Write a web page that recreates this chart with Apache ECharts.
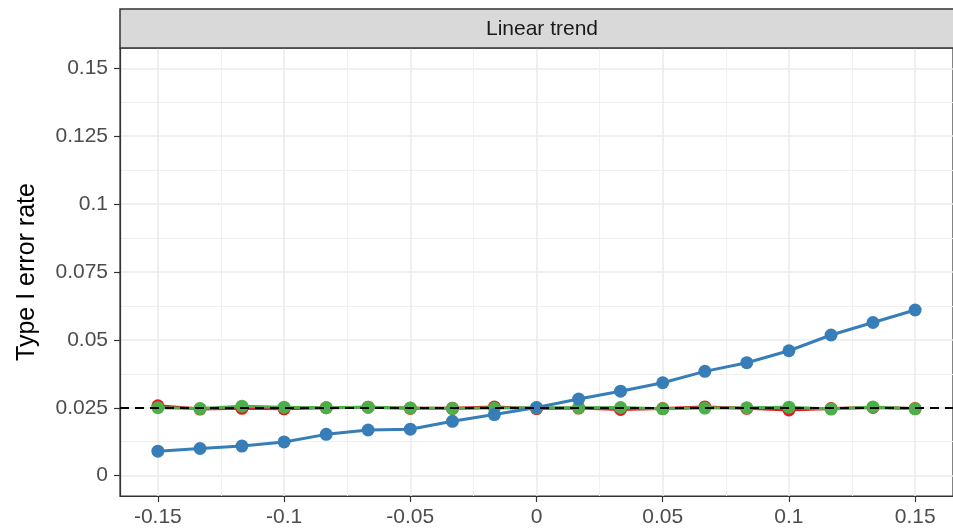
<!DOCTYPE html>
<html>
<head>
<meta charset="utf-8">
<script src="https://cdn.jsdelivr.net/npm/echarts@6/dist/echarts.min.js"></script>
<style>
html,body{margin:0;padding:0;background:#fff;}
#chart{width:953px;height:530px;}
</style>
</head>
<body>
<div id="chart"></div>
<script>
var xValues = [-0.15, -0.1333, -0.1167, -0.1, -0.0833, -0.0667, -0.05, -0.0333, -0.0167, 0,
               0.0167, 0.0333, 0.05, 0.0667, 0.0833, 0.1, 0.1167, 0.1333, 0.15];
var blueValues = [0.0090, 0.0100, 0.0109, 0.0124, 0.0152, 0.0168, 0.0171, 0.0200, 0.0225, 0.0251,
                  0.0282, 0.0311, 0.0342, 0.0384, 0.0416, 0.0460, 0.0518, 0.0564, 0.0610];
var redValues = [0.0257, 0.0245, 0.0248, 0.0246, 0.0250, 0.0252, 0.0248, 0.0248, 0.0253, 0.0247,
                 0.0249, 0.0244, 0.0247, 0.0253, 0.0248, 0.0242, 0.0247, 0.0251, 0.0247];
var greenValues = [0.0250, 0.0247, 0.0256, 0.0252, 0.0250, 0.0252, 0.0249, 0.0247, 0.0249, 0.0250,
                   0.0250, 0.0251, 0.0246, 0.0249, 0.0250, 0.0252, 0.0245, 0.0253, 0.0246];
var referenceLevel = 0.025;
var xTicks = [-0.15, -0.1, -0.05, 0, 0.05, 0.1, 0.15];
var xTickLabels = ['-0.15', '-0.1', '-0.05', '0', '0.05', '0.1', '0.15'];
var xMinor = [-0.125, -0.075, -0.025, 0.025, 0.075, 0.125];
var yTicks = [0, 0.025, 0.05, 0.075, 0.1, 0.125, 0.15];
var yTickLabels = ['0', '0.025', '0.05', '0.075', '0.1', '0.125', '0.15'];
var yMinor = [0.0125, 0.0375, 0.0625, 0.0875, 0.1125, 0.1375];
var stripTitle = 'Linear trend';
var yTitle = 'Type I error rate';

function pairs(ys) { return xValues.map(function (x, i) { return [x, ys[i]]; }); }
function labelFor(ticks, labels) {
  return function (v) {
    for (var i = 0; i < ticks.length; i++) if (Math.abs(ticks[i] - v) < 1e-9) return labels[i];
    return '';
  };
}

var FONT = 'Liberation Sans, Arial, sans-serif';
var chart = echarts.init(document.getElementById('chart'), null, {renderer: 'canvas'});

var xMin = -0.165, xMax = 0.165, yMin = -0.0075, yMax = 0.1575;

function seriesLine(name, color, data, z) {
  return {
    name: name, type: 'line', data: pairs(data), xAxisIndex: 0, yAxisIndex: 0,
    symbol: 'circle', symbolSize: 13, showSymbol: true, z: z,
    lineStyle: {color: color, width: 3},
    itemStyle: {color: color},
    emphasis: {disabled: true},
    animation: false
  };
}

var blue = seriesLine('blue', '#377EB8', blueValues, 4);
blue.markLine = {
  silent: true, symbol: ['none', 'none'], label: {show: false}, animation: false,
  precision: 6,
  lineStyle: {color: '#000000', type: [9, 6], width: 2},
  emphasis: {disabled: true},
  data: [{yAxis: referenceLevel}]
};

chart.setOption({
  animation: false,
  backgroundColor: '#ffffff',
  grid: {left: 120, top: 48, right: -11, bottom: 34, show: true, borderColor: '#333333', borderWidth: 1.2, backgroundColor: '#ffffff'},
  xAxis: [{
    type: 'value', min: xMin, max: xMax, position: 'bottom',
    axisLine: {show: true, onZero: false, lineStyle: {color: '#333333', width: 1.2}},
    axisTick: {show: true, length: 6, customValues: xTicks, lineStyle: {color: '#333333', width: 1.2}},
    axisLabel: {show: true, customValues: xTicks, formatter: labelFor(xTicks, xTickLabels), color: '#4d4d4d', fontSize: 21, fontFamily: FONT, margin: 11},
    splitLine: {show: true, lineStyle: {color: '#ebebeb', width: 1.6}}
  }, {
    type: 'value', min: xMin, max: xMax, position: 'top',
    axisLine: {show: false}, axisLabel: {show: false},
    axisTick: {show: false, customValues: xMinor},
    splitLine: {show: true, lineStyle: {color: '#f0f0f0', width: 1}}
  }],
  yAxis: [{
    type: 'value', min: yMin, max: yMax, position: 'left',
    name: yTitle, nameLocation: 'middle', nameGap: 80, nameRotate: 90,
    nameTextStyle: {color: '#000000', fontSize: 25, fontFamily: FONT},
    axisLine: {show: true, onZero: false, lineStyle: {color: '#333333', width: 1.2}},
    axisTick: {show: true, length: 6, customValues: yTicks, lineStyle: {color: '#333333', width: 1.2}},
    axisLabel: {show: true, customValues: yTicks, formatter: labelFor(yTicks, yTickLabels), color: '#4d4d4d', fontSize: 21, fontFamily: FONT, margin: 12},
    splitLine: {show: true, lineStyle: {color: '#ebebeb', width: 1.6}}
  }, {
    type: 'value', min: yMin, max: yMax, position: 'right',
    axisLine: {show: false}, axisLabel: {show: false},
    axisTick: {show: false, customValues: yMinor},
    splitLine: {show: true, lineStyle: {color: '#f0f0f0', width: 1}}
  }],
  graphic: [{
    type: 'rect', z: 100,
    shape: {x: 120, y: 9, width: 860, height: 39},
    style: {fill: '#d9d9d9', stroke: '#333333', lineWidth: 1.5}
  }, {
    type: 'text', z: 101, x: 542, y: 29,
    style: {text: stripTitle, fill: '#1a1a1a', font: '21px ' + FONT, textAlign: 'center', textVerticalAlign: 'middle'}
  }],
  series: [
    seriesLine('red', '#E41A1C', redValues, 2),
    seriesLine('green', '#4DAF4A', greenValues, 3),
    blue
  ]
});
</script>
</body>
</html>
